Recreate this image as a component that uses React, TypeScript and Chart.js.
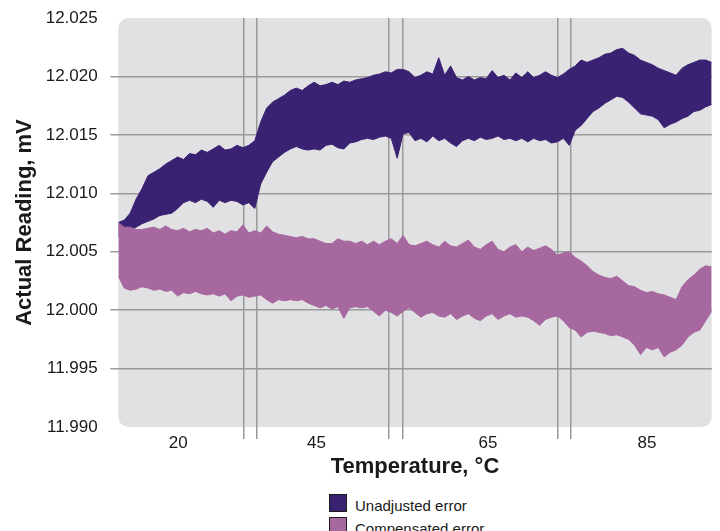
import React, { useEffect, useRef } from 'react';
import { Chart, registerables } from 'chart.js';

Chart.register(...registerables);

const FONT = 'Arial, "Liberation Sans", Helvetica, sans-serif';
const DARK = '#3a2273';
const PINK = '#a6689f';
const GRID = '#9a9a9a';
const TEXT = '#1a1a1a';

// x positions of labelled ticks (in sample units 0..100) and their labels
const xTickPositions = [10.1, 33.4, 62.3, 89.1];
const xTickLabels = ['20', '45', '65', '85'];
// x positions of the vertical grid lines
const xGridPositions = [21.1, 23.3, 45.6, 47.9, 74.0, 76.3];

const yMin = 11.99;
const yMax = 12.025;
const yStep = 0.005;

const seriesLabels = ['Unadjusted error', 'Compensated error'];

// upper / lower envelope of the unadjusted error band (mV)
const unadjustedHigh = [
  12.0075, 12.0077, 12.0083, 12.0095, 12.0104, 12.0115, 12.0118, 12.0121, 12.0125, 12.0128,
  12.0131, 12.0129, 12.0134, 12.0133, 12.0137, 12.0135, 12.0138, 12.0141, 12.0137, 12.0138,
  12.0141, 12.0139, 12.0141, 12.0145, 12.0161, 12.0173, 12.0178, 12.0181, 12.0184, 12.0188,
  12.0190, 12.0188, 12.0192, 12.0195, 12.0192, 12.0193, 12.0195, 12.0193, 12.0196, 12.0195,
  12.0197, 12.0198, 12.0199, 12.0201, 12.0202, 12.0204, 12.0203, 12.0206, 12.0206, 12.0204,
  12.0199, 12.0201, 12.0204, 12.0202, 12.0216, 12.0201, 12.0209, 12.0199, 12.0197, 12.0200,
  12.0197, 12.0199, 12.0198, 12.0205, 12.0199, 12.0201, 12.0197, 12.0203, 12.0199, 12.0204,
  12.0199, 12.0201, 12.0204, 12.0201, 12.0199, 12.0202, 12.0206, 12.0209, 12.0214, 12.0212,
  12.0214, 12.0216, 12.0219, 12.0220, 12.0223, 12.0224, 12.0220, 12.0218, 12.0214, 12.0212,
  12.0210, 12.0207, 12.0205, 12.0203, 12.0201, 12.0207, 12.0210, 12.0212, 12.0214, 12.0214,
  12.0212,
];
const unadjustedLow = [
  12.0063, 12.0064, 12.0068, 12.0071, 12.0074, 12.0076, 12.0078, 12.0081, 12.0082, 12.0083,
  12.0087, 12.0092, 12.0094, 12.0092, 12.0095, 12.0093, 12.0088, 12.0094, 12.0092, 12.0094,
  12.0093, 12.0090, 12.0092, 12.0087, 12.0108, 12.0118, 12.0127, 12.0131, 12.0135, 12.0138,
  12.0140, 12.0138, 12.0137, 12.0138, 12.0137, 12.0141, 12.0142, 12.0139, 12.0138, 12.0143,
  12.0144, 12.0146, 12.0147, 12.0146, 12.0148, 12.0149, 12.0147, 12.0130, 12.0151, 12.0152,
  12.0145, 12.0147, 12.0144, 12.0149, 12.0145, 12.0147, 12.0143, 12.0140, 12.0145, 12.0147,
  12.0145, 12.0148, 12.0146, 12.0147, 12.0149, 12.0146, 12.0147, 12.0145, 12.0147, 12.0144,
  12.0147, 12.0145, 12.0146, 12.0143, 12.0144, 12.0147, 12.0141, 12.0154, 12.0158, 12.0164,
  12.0170, 12.0173, 12.0177, 12.0180, 12.0183, 12.0182, 12.0178, 12.0173, 12.0168, 12.0167,
  12.0166, 12.0163, 12.0156, 12.0159, 12.0161, 12.0164, 12.0166, 12.0170, 12.0171, 12.0174,
  12.0176,
];

// upper / lower envelope of the compensated error band (mV)
const compensatedHigh = [
  12.0075, 12.0071, 12.0071, 12.0069, 12.0069, 12.0070, 12.0071, 12.0069, 12.0072, 12.0069,
  12.0068, 12.0070, 12.0067, 12.0069, 12.0068, 12.0070, 12.0066, 12.0068, 12.0065, 12.0068,
  12.0067, 12.0073, 12.0066, 12.0068, 12.0066, 12.0072, 12.0067, 12.0065, 12.0064, 12.0063,
  12.0062, 12.0063, 12.0061, 12.0061, 12.0059, 12.0057, 12.0057, 12.0061, 12.0059, 12.0059,
  12.0057, 12.0059, 12.0056, 12.0059, 12.0056, 12.0059, 12.0061, 12.0057, 12.0064, 12.0056,
  12.0055, 12.0057, 12.0059, 12.0056, 12.0054, 12.0059, 12.0055, 12.0054, 12.0057, 12.0060,
  12.0054, 12.0052, 12.0056, 12.0059, 12.0052, 12.0050, 12.0054, 12.0056, 12.0050, 12.0054,
  12.0051, 12.0053, 12.0055, 12.0052, 12.0047, 12.0049, 12.0050, 12.0045, 12.0042, 12.0038,
  12.0033, 12.0030, 12.0028, 12.0027, 12.0029, 12.0025, 12.0021, 12.0020, 12.0017, 12.0015,
  12.0016, 12.0014, 12.0013, 12.0011, 12.0009, 12.0020, 12.0026, 12.0030, 12.0035, 12.0038,
  12.0037,
];
const compensatedLow = [
  12.0029, 12.0019, 12.0017, 12.0018, 12.0020, 12.0019, 12.0017, 12.0018, 12.0016, 12.0017,
  12.0012, 12.0015, 12.0014, 12.0016, 12.0014, 12.0013, 12.0014, 12.0012, 12.0014, 12.0008,
  12.0012, 12.0013, 12.0011, 12.0012, 12.0013, 12.0009, 12.0006, 12.0009, 12.0008, 12.0009,
  12.0008, 12.0009, 12.0006, 12.0004, 12.0002, 12.0004, 12.0001, 12.0003, 11.9993, 12.0002,
  12.0003, 12.0002, 12.0003, 11.9999, 11.9995, 12.0000, 11.9998, 11.9995, 11.9999, 12.0002,
  11.9998, 11.9994, 11.9997, 11.9998, 11.9995, 11.9994, 11.9997, 11.9992, 11.9995, 11.9997,
  11.9993, 11.9991, 11.9995, 11.9997, 11.9992, 11.9995, 11.9997, 11.9994, 11.9995, 11.9994,
  11.9991, 11.9987, 11.9992, 11.9994, 11.9995, 11.9991, 11.9985, 11.9983, 11.9977, 11.9981,
  11.9982, 11.9981, 11.9980, 11.9978, 11.9979, 11.9977, 11.9975, 11.9970, 11.9962, 11.9968,
  11.9966, 11.9968, 11.9960, 11.9964, 11.9966, 11.9970, 11.9977, 11.9981, 11.9983, 11.9991,
  11.9999,
];

const near = (a: number, b: number) => Math.abs(a - b) < 1e-6;

export default function App() {
  const ref = useRef<HTMLCanvasElement | null>(null);

  useEffect(() => {
    document.body.style.margin = '0';
    document.documentElement.style.overflow = 'hidden';
    if (!ref.current) return;

    const bgPlugin = {
      id: 'plotBg',
      beforeDraw(chart: any) {
        const { ctx, chartArea: a } = chart;
        ctx.save();
        ctx.fillStyle = '#e1e1e3';
        ctx.beginPath();
        (ctx as any).roundRect(a.left, a.top, a.right - a.left, a.bottom - a.top, 10);
        ctx.fill();
        ctx.restore();
      },
    };

    const pts = (arr: number[]) => arr.map((v, i) => ({ x: i, y: v }));
    const band = (data: number[], color: string, fill: any, order: number, label: string) => ({
      label,
      data: pts(data),
      fill,
      backgroundColor: color,
      borderColor: color,
      borderWidth: 1,
      pointRadius: 0,
      tension: 0,
      order,
    });

    const chart = new Chart(ref.current, {
      type: 'line',
      data: {
        datasets: [
          band(compensatedHigh, PINK, '+1', 0, seriesLabels[1]),
          band(compensatedLow, PINK, false, 0, seriesLabels[1] + ' (low)'),
          band(unadjustedHigh, DARK, '+1', 1, seriesLabels[0]),
          band(unadjustedLow, DARK, false, 1, seriesLabels[0] + ' (low)'),
        ],
      },
      options: {
        animation: false,
        responsive: false,
        layout: { padding: { top: 18, right: 8.3, left: 0, bottom: 0 } },
        plugins: {
          legend: { display: false },
          tooltip: { enabled: false },
        },
        scales: {
          x: {
            type: 'linear',
            min: 0,
            max: 100,
            afterBuildTicks: (s: any) => {
              const vals = [...xGridPositions, ...xTickPositions].sort((p, q) => p - q);
              s.ticks = vals.map((v) => ({ value: v }));
            },
            afterFit: (s: any) => {
              s.height = 63;
              s.paddingLeft = 0;
              s.paddingRight = 0;
            },
            border: { display: false },
            grid: {
              color: (c: any) =>
                c.tick && xGridPositions.some((g) => near(g, c.tick.value)) ? GRID : 'rgba(0,0,0,0)',
              lineWidth: 1.5,
              tickLength: 12,
            },
            ticks: {
              autoSkip: false,
              maxRotation: 0,
              padding: -6,
              color: TEXT,
              font: { family: FONT, size: 17 },
              callback: (v: any) => {
                const i = xTickPositions.findIndex((p) => near(p, Number(v)));
                return i >= 0 ? xTickLabels[i] : '';
              },
            },
            title: {
              display: true,
              text: 'Temperature, °C',
              color: TEXT,
              font: { family: FONT, size: 22, weight: 'bold' },
              padding: { top: 0, bottom: 10 },
            },
          },
          y: {
            min: yMin,
            max: yMax,
            afterFit: (s: any) => {
              s.width = 118.3;
              s.paddingTop = 0;
              s.paddingBottom = 0;
            },
            border: { display: false },
            grid: {
              color: (c: any) =>
                c.tick && (near(c.tick.value, yMin) || near(c.tick.value, yMax)) ? 'rgba(0,0,0,0)' : GRID,
              lineWidth: 1.5,
              tickLength: 8,
            },
            ticks: {
              stepSize: yStep,
              padding: 12.6,
              color: TEXT,
              font: { family: FONT, size: 17 },
              callback: (v: any) => Number(v).toFixed(3),
            },
            title: {
              display: true,
              text: 'Actual Reading, mV',
              color: TEXT,
              font: { family: FONT, size: 22, weight: 'bold' },
              padding: { top: 12, bottom: 0 },
            },
          },
        },
      },
      plugins: [bgPlugin],
    } as any);

    return () => chart.destroy();
  }, []);

  const legendItems = [
    { label: seriesLabels[0], color: DARK },
    { label: seriesLabels[1], color: PINK },
  ];

  return (
    <div style={{ position: 'relative', width: 720, height: 531, overflow: 'hidden', background: '#fff' }}>
      <canvas ref={ref} width={720} height={490} style={{ display: 'block', width: 720, height: 490 }} />
      <div style={{ position: 'absolute', left: 329, top: 494 }}>
        {legendItems.map((it) => (
          <div key={it.label} style={{ display: 'flex', alignItems: 'center', height: 23 }}>
            <span
              style={{
                display: 'inline-block',
                width: 16,
                height: 16,
                background: it.color,
                border: '1px solid #1a1a1a',
                marginRight: 8,
                alignSelf: 'flex-start',
              }}
            />
            <span style={{ fontFamily: FONT, fontSize: 15, color: TEXT, lineHeight: '18px' }}>{it.label}</span>
          </div>
        ))}
      </div>
    </div>
  );
}
